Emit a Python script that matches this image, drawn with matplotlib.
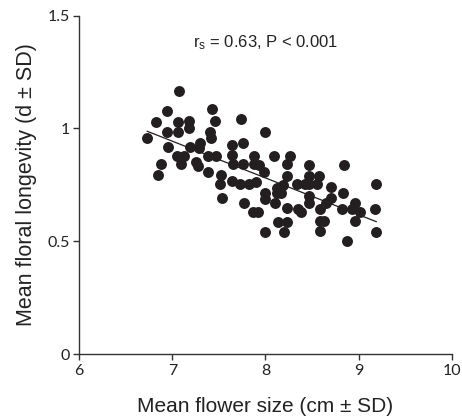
import numpy as np
import matplotlib
matplotlib.use("Agg")
import matplotlib.pyplot as plt

# mean flower size (cm) and mean floral longevity (d)
flower_size = [
    6.73, 6.82, 6.88, 6.85, 6.94, 6.94, 6.95, 7.05, 7.06, 7.06,
    7.07, 7.09, 7.13, 7.18, 7.18, 7.19, 7.25, 7.28, 7.29, 7.30,
    7.38, 7.38, 7.40, 7.42, 7.43, 7.46, 7.47, 7.51, 7.52, 7.53,
    7.64, 7.64, 7.64, 7.65, 7.73, 7.74, 7.76, 7.76, 7.77, 7.82,
    7.87, 7.88, 7.88, 7.90, 7.92, 7.93, 7.98, 7.99, 7.99, 7.99,
    8.00, 8.09, 8.10, 8.12, 8.12, 8.14, 8.17, 8.19, 8.20, 8.23,
    8.23, 8.23, 8.23, 8.26, 8.34, 8.35, 8.38, 8.42, 8.47, 8.47,
    8.47, 8.47, 8.47, 8.55, 8.57, 8.59, 8.59, 8.63, 8.59, 8.65,
    8.70, 8.70, 8.82, 8.83, 8.84, 8.88, 8.93, 8.96, 8.96, 9.02,
    9.18, 9.19, 9.19,
]
longevity = [
    0.957, 1.030, 0.843, 0.794, 1.078, 0.983, 0.917, 0.878, 1.030, 0.983,
    1.166, 0.841, 0.878, 1.033, 1.000, 0.917, 0.851, 0.835, 0.913, 0.937,
    0.879, 0.806, 0.983, 0.959, 1.087, 1.034, 0.879, 0.752, 0.794, 0.690,
    0.767, 0.926, 0.882, 0.841, 0.752, 1.042, 0.934, 0.841, 0.668, 0.752,
    0.628, 0.879, 0.841, 0.764, 0.628, 0.837, 0.805, 0.983, 0.712, 0.687,
    0.542, 0.879, 0.670, 0.735, 0.712, 0.586, 0.712, 0.749, 0.542, 0.841,
    0.646, 0.586, 0.789, 0.879, 0.753, 0.644, 0.631, 0.753, 0.837, 0.789,
    0.753, 0.700, 0.668, 0.753, 0.789, 0.641, 0.591, 0.591, 0.547, 0.670,
    0.739, 0.690, 0.641, 0.712, 0.837, 0.502, 0.641, 0.670, 0.591, 0.629,
    0.641, 0.753, 0.539,
]

x_ticks = [6, 7, 8, 9, 10]
y_ticks = [0, 0.5, 1, 1.5]
y_tick_labels = ["0", "0.5", "1", "1.5"]
stat_text = r"r$_\mathregular{s}$ = 0.63, P < 0.001"

plt.rcParams["font.family"] = ["Liberation Sans", "DejaVu Sans"]
plt.rcParams["mathtext.default"] = "regular"

fig = plt.figure(figsize=(4.62, 4.16), dpi=100)
ax = fig.add_axes([0.1716, 0.149, 0.806, 0.8133])

ax.scatter(flower_size, longevity, s=62, color="#231f20", linewidths=0, zorder=3)

# least-squares trend line across the range of the data
slope, intercept = np.polyfit(flower_size, longevity, 1)
xs = np.array([min(flower_size), max(flower_size)])
ax.plot(xs, slope * xs + intercept, color="#231f20", linewidth=0.9, zorder=2)

ax.set_xlim(6, 10)
ax.set_ylim(0, 1.5)
ax.set_xticks(x_ticks)
ax.set_yticks(y_ticks)
ax.set_yticklabels(y_tick_labels)

for side in ["top", "right"]:
    ax.spines[side].set_visible(False)
for side in ["left", "bottom"]:
    ax.spines[side].set_color("#333333")
    ax.spines[side].set_linewidth(1.0)

ax.tick_params(direction="out", length=4, width=1.0, color="#333333",
               labelsize=11.5, labelcolor="#222222", pad=3)
for lab in ax.get_xticklabels() + ax.get_yticklabels():
    lab.set_family("Lato")

ax.set_xlabel("Mean flower size (cm ± SD)", fontsize=15, color="#222222", labelpad=14)
ax.set_ylabel("Mean floral longevity (d ± SD)", fontsize=15.5, color="#222222", labelpad=7)

ax.text(0.5, 0.92, stat_text, transform=ax.transAxes, ha="center", va="center",
        fontsize=12, color="#222222")

fig.savefig("out.png", dpi=100)
